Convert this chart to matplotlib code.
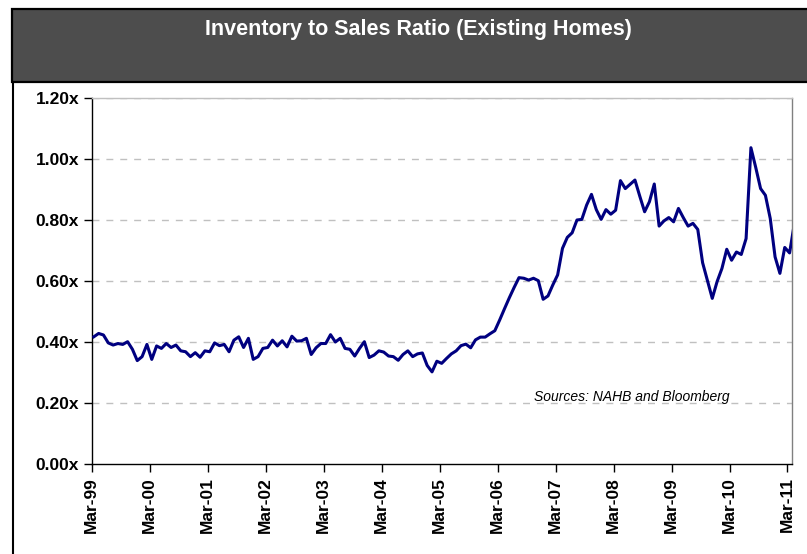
import matplotlib
matplotlib.use("Agg")
import matplotlib.pyplot as plt
from matplotlib.patches import Rectangle
from matplotlib.lines import Line2D
from matplotlib.ticker import FixedLocator, FuncFormatter

plt.rcParams['font.family'] = ['Liberation Sans', 'DejaVu Sans']

title = "Inventory to Sales Ratio (Existing Homes)"
source_note = "Sources: NAHB and Bloomberg"

# Monthly ratio, Mar-99 .. Apr-11
ratio = [
    0.418, 0.429, 0.424, 0.398, 0.391, 0.396, 0.393, 0.402, 0.377, 0.340,
    0.353, 0.393, 0.344, 0.388, 0.380, 0.396, 0.383, 0.391, 0.372, 0.369,
    0.353, 0.366, 0.351, 0.372, 0.369, 0.398, 0.389, 0.393, 0.369, 0.407,
    0.418, 0.383, 0.413, 0.344, 0.353, 0.380, 0.383, 0.407, 0.388, 0.405,
    0.385, 0.420, 0.404, 0.405, 0.413, 0.360, 0.382, 0.396, 0.396, 0.425,
    0.401, 0.413, 0.380, 0.377, 0.355, 0.380, 0.402, 0.350, 0.358, 0.372,
    0.368, 0.355, 0.353, 0.341, 0.360, 0.372, 0.353, 0.362, 0.365, 0.324,
    0.303, 0.338, 0.331, 0.347, 0.362, 0.372, 0.389, 0.394, 0.382, 0.408,
    0.417, 0.417, 0.428, 0.438, 0.473, 0.510, 0.546, 0.580, 0.612, 0.610,
    0.604, 0.610, 0.602, 0.541, 0.552, 0.588, 0.621, 0.708, 0.744, 0.759,
    0.801, 0.803, 0.850, 0.885, 0.835, 0.803, 0.835, 0.820, 0.833, 0.930,
    0.904, 0.918, 0.932, 0.879, 0.828, 0.861, 0.919, 0.781, 0.798, 0.809,
    0.795, 0.839, 0.809, 0.781, 0.790, 0.770, 0.661, 0.602, 0.544, 0.599,
    0.642, 0.705, 0.669, 0.696, 0.688, 0.740, 1.038, 0.973, 0.904, 0.882,
    0.806, 0.680, 0.626, 0.711, 0.693, 0.790,
]

tick_labels = ["Mar-99", "Mar-00", "Mar-01", "Mar-02", "Mar-03", "Mar-04",
               "Mar-05", "Mar-06", "Mar-07", "Mar-08", "Mar-09", "Mar-10", "Mar-11"]
y_ticks = [0.0, 0.2, 0.4, 0.6, 0.8, 1.0, 1.2]

W, H = 807, 554
fig = plt.figure(figsize=(W / 100, H / 100), dpi=100)

# title box
fig.patches.append(Rectangle((12 / W, 1 - 82 / H), 1.2, (82 - 9) / H,
                             transform=fig.transFigure, facecolor='#4d4d4d',
                             edgecolor='black', linewidth=1.6, zorder=0))
fig.text(418 / W, 1 - 30 / H, title, color='white', fontsize=15.5,
         fontweight='bold', ha='center', va='center')
fig.lines.append(Line2D([13 / W, 13 / W], [0, 1 - 82 / H], transform=fig.transFigure,
                        color='black', linewidth=1.5))

ax_l, ax_r, ax_t, ax_b = 91.7, 791.7, 98.3, 464.3
ax = fig.add_axes([ax_l / W, 1 - ax_b / H, (ax_r - ax_l) / W, (ax_b - ax_t) / H])

xs = [i + 0.43 for i in range(len(ratio))]
ax.plot(xs, ratio, color='#000080', linewidth=2.2, solid_joinstyle='round', zorder=3)

ax.set_xlim(0, 144.87)
ax.set_ylim(0, 1.2)
ax.yaxis.set_major_locator(FixedLocator(y_ticks))
ax.yaxis.set_major_formatter(FuncFormatter(lambda v, p: f"{v:.2f}x"))
ax.set_xticks([12 * k for k in range(len(tick_labels))])
ax.set_xticklabels(tick_labels, rotation=90)

for v in y_ticks[1:]:
    ax.axhline(v, color='#c0c0c0', linewidth=1.0, linestyle=(0, (5, 5)), zorder=1)

for lab in ax.get_yticklabels() + ax.get_xticklabels():
    lab.set_fontweight('bold')
    lab.set_fontsize(12.5)

ax.tick_params(axis='both', direction='out', length=6, width=1, color='black', pad=3)
ax.spines['left'].set_color('black')
ax.spines['bottom'].set_color('black')
ax.spines['top'].set_color('#c0c0c0')
ax.spines['right'].set_color('#808080')
for s in ax.spines.values():
    s.set_linewidth(1.0)

ax.text((632 - ax_l) / (ax_r - ax_l), (ax_b - 397) / (ax_b - ax_t), source_note,
        transform=ax.transAxes, fontsize=10, style='italic', ha='center', va='center')

fig.savefig("out.png", dpi=100)
